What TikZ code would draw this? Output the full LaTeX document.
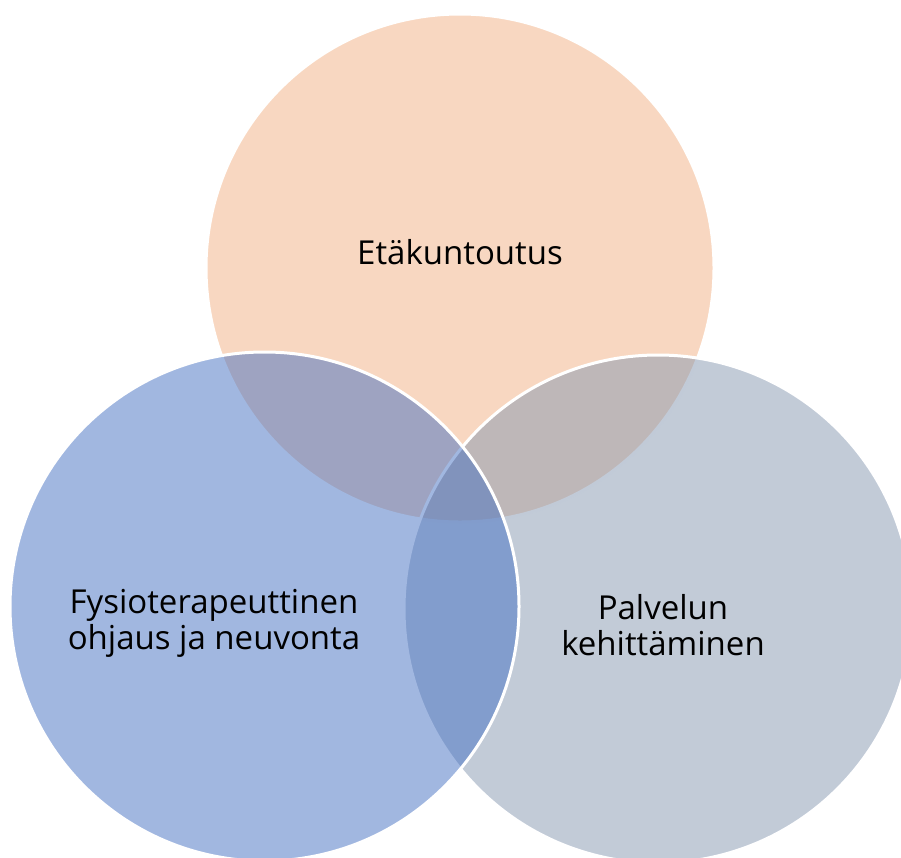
\documentclass[tikz,border=0pt]{standalone}
\usepackage{fontspec}
\setmainfont{Open Sans}
\definecolor{topfill}{HTML}{F2B083}
\definecolor{leftfill}{HTML}{4470C2}
\definecolor{rightfill}{HTML}{8597B0}
\tikzset{
  venn/.style={draw=white, line width=3pt, fill opacity=0.5, draw opacity=1},
  label/.style={text=black, align=center, font=\fontsize{33}{36}\selectfont, inner sep=0pt}
}
\begin{document}
\begin{tikzpicture}[x=1pt, y=-1pt]
  \useasboundingbox (0,0) rectangle (901,857);
  \clip (0,0) rectangle (901,857);
  % three overlapping circles, drawn top, right, left
  \path[venn, fill=topfill] (460,268) circle[radius=254];
  \path[venn, fill=rightfill] (658,609) circle[radius=254];
  \path[venn, fill=leftfill] (264.5,606.5) circle[radius=254.5];
  % labels
  \node[label] (top) at (460,252) {Etäkuntoutus};
  \node[label] (left) at (214,623) {Fysioterapeuttinen\\ohjaus ja neuvonta};
  \node[label] (right) at (663,625) {Palvelun\\kehittäminen};
\end{tikzpicture}
\end{document}
